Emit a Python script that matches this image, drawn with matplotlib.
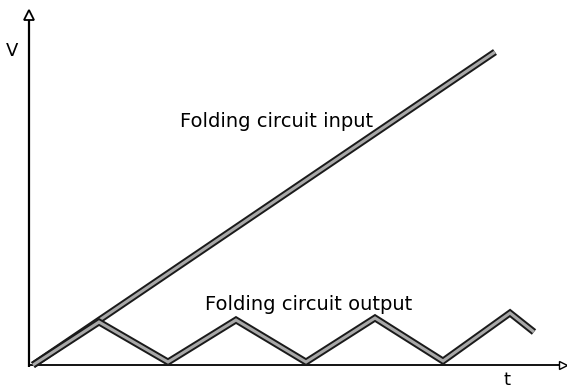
import matplotlib.pyplot as plt
import matplotlib.patheffects as pe

# folding circuit waveforms (t, V in arbitrary units)
ramp_t = [4, 466]
ramp_v = [0, 313]

fold_t = [4, 70, 139, 207, 277, 346, 414, 481, 505]
fold_v = [0, 43, 3, 45, 3, 47, 4, 52, 33]

fig = plt.figure(figsize=(5.67, 3.89), dpi=100)
ax = fig.add_axes([0, 0, 1, 1])
ax.set_xlim(-29, 538)
ax.set_ylim(-24, 365)
ax.axis('off')

# axes with open arrow heads
ax.plot([0, 0], [-2, 346], color='black', lw=1.6, solid_capstyle='butt')
ax.plot([0, 531], [0, 0], color='black', lw=1.3, solid_capstyle='butt')
ax.plot(0, 350, marker='^', ms=7, mfc='white', mec='black', mew=1.3)
ax.plot(534, 0, marker='>', ms=6, mfc='white', mec='black', mew=1.0)

# outlined thick lines, like the scanned drawing
outline = [pe.Stroke(linewidth=5.0, foreground='#1a1a1a'), pe.Normal()]
ax.plot(ramp_t, ramp_v, color='#a8a8a8', lw=2.2,
        solid_capstyle='butt', path_effects=outline)
ax.plot(fold_t, fold_v, color='#a8a8a8', lw=2.2, solid_joinstyle='miter',
        solid_capstyle='butt', path_effects=outline)

ax.text(-17, 314, 'V', fontsize=13, ha='center', va='center')
ax.text(478, -15, 't', fontsize=13, ha='center', va='center')
ax.text(151, 238, 'Folding circuit input', fontsize=14, va='baseline')
ax.text(176, 55, 'Folding circuit output', fontsize=14, va='baseline')

plt.savefig('out.png', dpi=100)
